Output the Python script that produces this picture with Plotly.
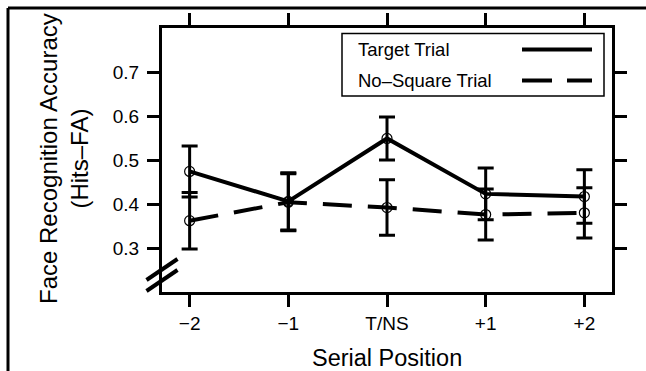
import plotly.graph_objects as go

# ---- data ----
positions = [-2, -1, 0, 1, 2]
position_labels = ["\u22122", "\u22121", "T/NS", "+1", "+2"]
target_acc = [0.474, 0.406, 0.549, 0.423, 0.417]
target_err = [0.058, 0.065, 0.049, 0.059, 0.061]
nosquare_acc = [0.362, 0.404, 0.392, 0.376, 0.380]
nosquare_err = [0.064, 0.065, 0.063, 0.058, 0.057]
y_ticks = [0.3, 0.4, 0.5, 0.6, 0.7]
y_tick_labels = ["0.3", "0.4", "0.5", "0.6", "0.7"]
series_names = ["Target Trial", "No\u2013Square Trial"]

FONT = "Liberation Sans, Arial, Helvetica, sans-serif"

fig = go.Figure()

fig.add_trace(go.Scatter(
    x=positions, y=nosquare_acc, mode="lines+markers", name=series_names[1],
    line=dict(color="black", width=4, dash="29px,16px"),
    marker=dict(symbol="circle-open", size=10, color="black", line=dict(width=1.2)),
    error_y=dict(type="data", array=nosquare_err, visible=True, color="black",
                 thickness=3, width=8),
    showlegend=False,
))
fig.add_trace(go.Scatter(
    x=positions, y=target_acc, mode="lines+markers", name=series_names[0],
    line=dict(color="black", width=4),
    marker=dict(symbol="circle-open", size=10, color="black", line=dict(width=1.2)),
    error_y=dict(type="data", array=target_err, visible=True, color="black",
                 thickness=3, width=8),
    showlegend=False,
))

W, H = 646, 371
L, R, T, B = 162, 34, 28, 79
PW, PH = W - L - R, H - T - B


def px(xp):
    return (xp - L) / PW


def py(yp):
    return 1 - (yp - T) / PH


shapes = []
# outer figure border (top and left)
shapes.append(dict(type="line", xref="paper", yref="paper", x0=px(8), x1=px(W + 2),
                   y0=py(8), y1=py(8), line=dict(color="black", width=3)))
shapes.append(dict(type="line", xref="paper", yref="paper", x0=px(8), x1=px(8),
                   y0=py(8), y1=py(H + 2), line=dict(color="black", width=3)))
# axis break marks
shapes.append(dict(type="line", xref="paper", yref="paper", x0=px(146.5), x1=px(177.5),
                   y0=py(280), y1=py(259), line=dict(color="black", width=4)))
shapes.append(dict(type="line", xref="paper", yref="paper", x0=px(146.5), x1=px(177.5),
                   y0=py(291), y1=py(270), line=dict(color="black", width=4)))
# legend box
shapes.append(dict(type="rect", xref="paper", yref="paper", x0=px(342), x1=px(604),
                   y0=py(96), y1=py(33.5), line=dict(color="black", width=1.5),
                   fillcolor="white", layer="above"))
# legend samples
shapes.append(dict(type="line", xref="paper", yref="paper", x0=px(522), x1=px(592),
                   y0=py(49.5), y1=py(49.5), line=dict(color="black", width=4),
                   layer="above"))
shapes.append(dict(type="line", xref="paper", yref="paper", x0=px(522), x1=px(592),
                   y0=py(80.5), y1=py(80.5), line=dict(color="black", width=4, dash="30px,15px"),
                   layer="above"))

annotations = [
    dict(text=series_names[0], xref="paper", yref="paper", x=px(356), y=py(49.5),
         xanchor="left", yanchor="middle", showarrow=False,
         font=dict(family=FONT, size=18.5, color="black")),
    dict(text=series_names[1], xref="paper", yref="paper", x=px(356), y=py(80.5),
         xanchor="left", yanchor="middle", showarrow=False,
         font=dict(family=FONT, size=18.5, color="black")),
    dict(text="Serial Position", xref="paper", yref="paper", x=0.5, y=py(357.5),
         xanchor="center", yanchor="middle", showarrow=False,
         font=dict(family=FONT, size=23.5, color="black")),
    dict(text="Face Recognition Accuracy<br>(Hits\u2013FA)", xref="paper", yref="paper",
         x=px(64), y=py(159), xanchor="center", yanchor="middle", showarrow=False,
         textangle=-90, font=dict(family=FONT, size=24, color="black")),
]

axis_common = dict(
    showline=True, linecolor="black", linewidth=3, mirror="ticks",
    ticks="outside", ticklen=12, tickwidth=3, tickcolor="black",
    showgrid=False, zeroline=False,
    tickfont=dict(family=FONT, size=19, color="black"),
)

fig.update_layout(
    width=W, height=H,
    margin=dict(l=L, r=R, t=T, b=B, pad=0),
    paper_bgcolor="white", plot_bgcolor="white",
    xaxis=dict(range=[-2.28, 2.28], tickmode="array", tickvals=positions,
               ticktext=position_labels, **axis_common),
    yaxis=dict(range=[0.2, 0.8], tickmode="array", tickvals=y_ticks,
               ticktext=y_tick_labels, ticklabelstandoff=4, **axis_common),
    shapes=shapes, annotations=annotations, showlegend=False,
)

fig.write_html("out.html")
